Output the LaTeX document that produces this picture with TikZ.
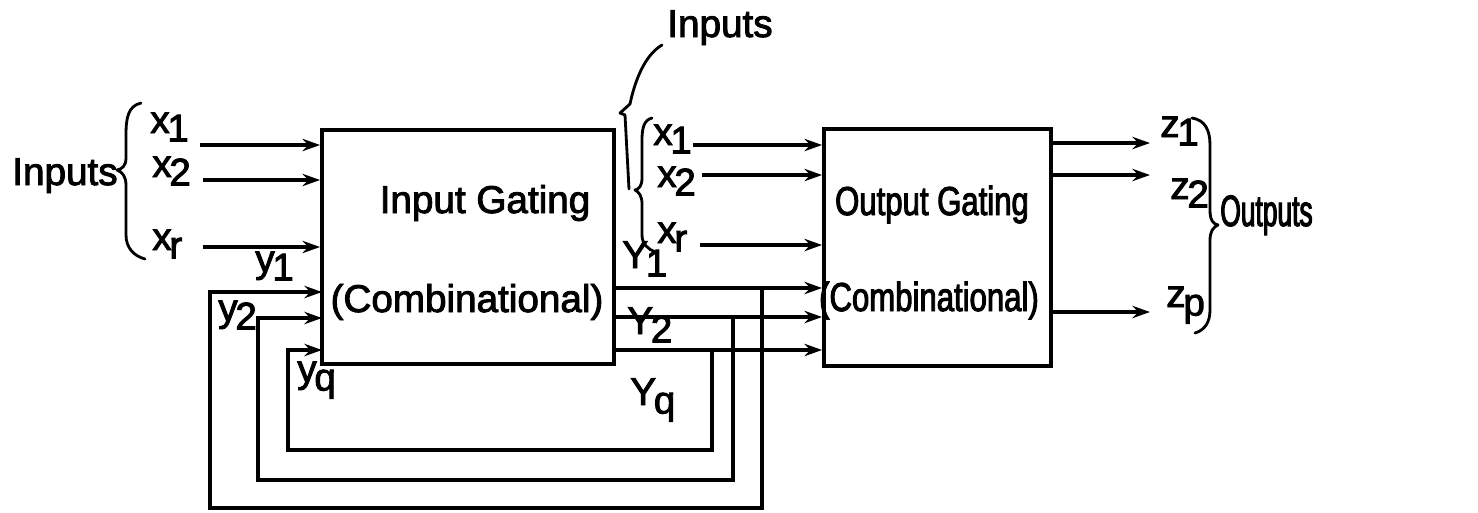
\documentclass[tikz,border=0pt]{standalone}
\usepackage{fontspec}
\setmainfont{Liberation Sans}
\newfontfamily\lettra{Liberation Sans}[FakeBold=2.4]
\newfontfamily\lettraest{Liberation Sans}[FakeBold=2.4,FakeStretch=0.77]
\newfontfamily\lettrastr{Liberation Sans}[FakeBold=2.4,FakeStretch=0.6]
\usetikzlibrary{arrows.meta,calc,positioning}
\tikzset{
  caja/.style={draw,line width=2.2pt,inner sep=0pt},
  sig/.style={-{Stealth[length=10pt,width=7pt]},line width=2pt},
  llave/.style={line width=1.6pt,line cap=round,line join=round},
  rot/.style={font=\lettra\fontsize{22}{26}\selectfont,inner sep=0pt,anchor=base west},
  rotest/.style={rot,font=\lettraest\fontsize{23}{26}\selectfont}
}
\newcommand{\sbs}[2]{#1\kern-0.06em\raisebox{-0.22em}{#2}}

\begin{document}
\begin{tikzpicture}[x=0.02cm,y=-0.02cm]
\useasboundingbox (0,0) rectangle (1478,512);
% bloques
\node[caja,minimum width=5.84cm,minimum height=4.68cm] (ig) at (468,247) {};
\node[caja,minimum width=4.54cm,minimum height=4.74cm] (og) at (937.5,247.5) {};
\node[rot,anchor=base] (igt) at (485,213) {Input Gating};
\node[rot,anchor=base] (igc) at (467,312) {(Combinational)};
\node[rotest,anchor=base] (ogt) at (932,215) {Output Gating};
\node[rotest,anchor=base] (ogc) at (929,311) {(Combinational)};
% entradas
\node[rot] (inl) at (12,185) {Inputs};
\node[rot] (lx1) at (150,133) {\sbs{x}{1}};
\node[rot] (lx2) at (152,177) {\sbs{x}{2}};
\node[rot] (lxr) at (152,250) {\sbs{x}{r}};
\coordinate (x1s) at (200,145);
\coordinate (x2s) at (203,180);
\coordinate (xrs) at (203,247);
\draw[sig] (x1s) -- (x1s -| ig.west);
\draw[sig] (x2s) -- (x2s -| ig.west);
\draw[sig] (xrs) -- (xrs -| ig.west);
\draw[llave] (141,103) .. controls (128,106) and (126,118) .. (126,135) -- (126,158)
  .. controls (126,166) and (122,169) .. (117,170) .. controls (122,172) and (126,176) .. (126,185)
  -- (126,235) .. controls (126,248) and (134,256) .. (145,259);
% salidas de estado
\coordinate (Y1) at (614,288);
\coordinate (Y2) at (614,317);
\coordinate (Yq) at (614,350);
\draw[sig] (Y1) -- (Y1 -| og.west);
\draw[sig] (Y2) -- (Y2 -| og.west);
\draw[sig] (Yq) -- (Yq -| og.west);
\node[rot] (lY1) at (622,268) {\sbs{Y}{1}};
\node[rot] (lY2) at (627,334) {\sbs{Y}{2}};
\node[rot] (lYq) at (630,405) {\sbs{Y}{q}};
% realimentacion
\coordinate (j1) at (762,288);
\coordinate (j2) at (733,317);
\coordinate (j3) at (712,350);
\coordinate (y1e) at (322,292);
\coordinate (y2e) at (322,318);
\coordinate (yqe) at (322,350);
\draw[sig] (j1) |- (210,508) |- (y1e);
\draw[sig] (j2) |- (258,480) |- (y2e);
\draw[sig] (j3) |- (288,450) |- (yqe);
\node[rot] (ly1) at (255,272) {\sbs{y}{1}};
\node[rot] (ly2) at (218,321) {\sbs{y}{2}};
\node[rot] (lyq) at (297,382) {\sbs{y}{q}};
% entradas al segundo bloque
\node[rot] (mx1) at (653,145) {\sbs{x}{1}};
\node[rot] (mx2) at (657,187) {\sbs{x}{2}};
\node[rot] (mxr) at (657,243) {\sbs{x}{r}};
\coordinate (m1s) at (693,145);
\coordinate (m2s) at (702,175);
\coordinate (mrs) at (700,245);
\draw[sig] (m1s) -- (m1s -| og.west);
\draw[sig] (m2s) -- (m2s -| og.west);
\draw[sig] (mrs) -- (mrs -| og.west);
\draw[llave] (652,118) .. controls (644,120) and (642,128) .. (642,140) -- (642,178)
  .. controls (642,186) and (639,189) .. (635,190) .. controls (639,192) and (642,196) .. (642,204)
  -- (642,235) .. controls (642,244) and (648,249) .. (655,252);
\node[rot] (inm) at (667,37) {Inputs};
\draw[llave] (629,189) -- (625,115) -- (620,113) -- (630,104)
  .. controls (635,80) and (645,55) .. (662,45);
% salidas
\coordinate (z1e) at (1150,143);
\coordinate (z2e) at (1150,175);
\coordinate (zpe) at (1150,312);
\draw[sig] (og.east |- z1e) -- (z1e);
\draw[sig] (og.east |- z2e) -- (z2e);
\draw[sig] (og.east |- zpe) -- (zpe);
\node[rot] (lz1) at (1160,137) {\sbs{z}{1}};
\node[rot] (lz2) at (1170,199) {\sbs{z}{2}};
\node[rot] (lzp) at (1166,307) {\sbs{z}{p}};
\draw[llave] (1192,118) .. controls (1205,120) and (1210,130) .. (1210,145) -- (1210,210)
  .. controls (1210,220) and (1213,224) .. (1218,225) .. controls (1213,227) and (1210,232) .. (1210,240)
  -- (1210,310) .. controls (1210,322) and (1205,330) .. (1195,333);
\node[rot,font=\lettrastr\fontsize{25}{28}\selectfont] (outl) at (1220,226) {Outputs};
\end{tikzpicture}
\end{document}
